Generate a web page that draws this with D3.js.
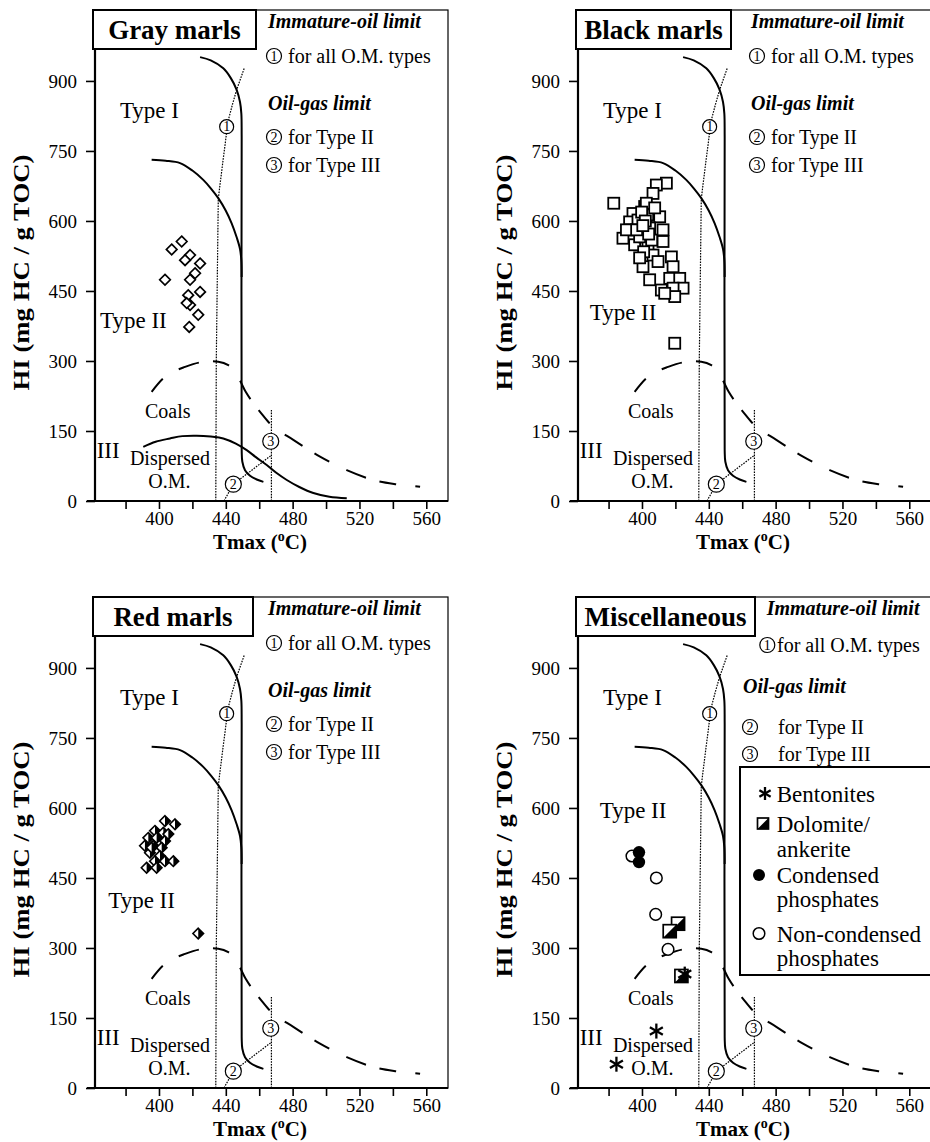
<!DOCTYPE html>
<html>
<head>
<meta charset="utf-8">
<script src="https://cdn.jsdelivr.net/npm/d3@7"></script>
<style>
body { margin: 0; background: #fff; }
svg { display: block; font-family: "Liberation Serif", "Times New Roman", serif; }
</style>
</head>
<body>
<script>
var width = 930, height = 1142;

// axes
var xTicks = [380, 400, 420, 440, 460, 480, 500, 520, 540, 560];
var xLabels = [400, 440, 480, 520, 560];
var yTicks = [0, 150, 300, 450, 600, 750, 900];

var panelTitles = ["Gray marls", "Black marls", "Red marls", "Miscellaneous"];

// reference curves, [Tmax, HI]
var typeICurve = [[424.6, 951], [431, 944], [438.5, 927], [443, 906], [446.5, 881], [448.5, 855], [449.3, 830],
    [449.5, 780], [449.5, 110], [449.9, 84], [451.5, 66], [454.5, 54], [458.5, 46], [462.5, 41]];
var typeIICurve = [[395.6, 731], [404, 729], [412.6, 724], [420, 708], [426.5, 688], [431, 670], [435.5, 649],
    [440, 622], [443.5, 595], [446.5, 565], [448.5, 540], [449.3, 515], [449.5, 480]];
var typeIIICurve = [[390.6, 116], [398, 127], [406.6, 134], [414, 139], [422.6, 140], [431, 138], [438.5, 134],
    [446, 123], [452.5, 109], [458, 94], [464.5, 77], [470, 61], [476.5, 45], [484, 30], [492.4, 17], [502, 9], [512.4, 5.7]];
var coalsCurve = [[395.6, 234], [402.6, 263], [408, 276], [414.6, 286], [424.6, 297], [435.5, 298.5], [441.5, 291],
    [445.5, 277], [448.5, 258], [451.9, 234], [456, 212], [460.5, 191], [468.4, 159], [480.4, 131], [496.4, 95],
    [512.4, 66], [528.3, 45], [542, 36], [556.3, 30.6]];
var immatureLimit = [[434, 0], [434.3, 300], [435.5, 648], [438, 720], [440.5, 790], [441.5, 816], [444, 850],
    [446.5, 881], [451.1, 928]];
var oilGasII = [[438.9, 0], [444.5, 36], [467.3, 98]];
var oilGasIII = [[467.3, 0], [467.3, 195]];
var limitMarks = [["1", 440.5, 802], ["2", 444.5, 36], ["3", 466.9, 128]];

// Type II label position per panel
var typeIILabelT = [364.7, 368.7, 369.6, 374.7];
var typeIILabelHI = [370, 388, 386, 579];

// Gray marls
var grayTmax = [413.6, 407.6, 418.6, 415.6, 424.6, 421.6, 403.6, 418.6, 424.6, 417.5, 418.6, 423.5, 418.1, 416.6];
var grayHI = [556, 539, 527, 516, 509, 488, 474, 474, 448, 441, 420, 399, 373, 424];

// Black marls
var blackTmax = [383.1, 414.6, 408.6, 406.6, 394.6, 401.6, 410.6, 392.6, 397.6, 402.6, 393.7, 388.6, 395.6, 401.6,
    403.6, 412.6, 412.6, 406.6, 417.6, 400.6, 409.6, 418.6, 404.6, 411.6, 416.6, 422.6, 424.6, 418.6, 419.6, 413.6,
    419.6, 390.7, 398.6, 402.6, 403.4, 404.6, 399.8, 405.8, 401, 396.8, 407.6, 398.6, 402, 404, 400.5];
var blackHI = [638, 681, 677, 659, 616, 631, 609, 598, 602, 595, 581, 563, 549, 566,
    549, 581, 556, 527, 523, 502, 513, 502, 474, 452, 477, 477, 456, 456, 438, 445,
    338, 581, 566, 638, 613, 585, 619, 559, 534, 581, 628, 521, 600, 572, 590];

// Red marls
var redTmax = [403.6, 409.6, 397.6, 402.6, 393.6, 398.6, 403.6, 391.6, 396.6, 401.6, 394.6, 400.6, 397.6, 403.6,
    392.6, 398.6, 408.6, 395.6, 405.6, 423.5];
var redHI = [572, 565, 551, 547, 536, 536, 529, 519, 519, 515, 504, 497, 486, 486, 472, 472, 486, 515, 544, 331];

// Miscellaneous
var bentoniteTmax = [425.6, 408.6, 384.7];
var bentoniteHI = [244, 122, 51];
var dolomiteTmax = [421.6, 416.6, 423.6];
var dolomiteHI = [352, 336, 240];
var condensedTmax = [398.2, 398.2];
var condensedHI = [505, 484];
var nonCondensedTmax = [394, 408.6, 408.2, 415.6];
var nonCondensedHI = [497, 450, 372, 297];

var legendNames = [["Bentonites"], ["Dolomite/", "ankerite"], ["Condensed", "phosphates"], ["Non-condensed", "phosphates"]];

var svg = d3.select("body").append("svg")
    .attr("width", width)
    .attr("height", height);

var frameW = 353, frameH = 491;
var panels = [
    {left: 95, top: 10, box: 163, leg: 0},
    {left: 578, top: 10, box: 155, leg: 0},
    {left: 95, top: 597, box: 160, leg: 0},
    {left: 578, top: 597, box: 179, leg: 1}
];
// layouts for the limit notes
var noteLayouts = [
    {immX: 173, immY: 18, c1X: 179, c1Y: 46, t1X: 193, ogX: 173, ogY: 100, c2X: 179, c2Y: 127, c3Y: 155, t2X: 193},
    {immX: 188.7, immY: 18, c1X: 189.3, c1Y: 48, t1X: 199, ogX: 165, ogY: 96, c2X: 172, c2Y: 130, c3Y: 157, t2X: 200}
];

var x = d3.scaleLinear().domain([361.7, 573]).range([0, frameW]);
var y = d3.scaleLinear().domain([0, 1052]).range([frameH, 0]);

var line = d3.line()
    .x(function (d) { return x(d[0]); })
    .y(function (d) { return y(d[1]); })
    .curve(d3.curveCatmullRom.alpha(0.5));

var diamond = "M0,-5.3L5.3,0L0,5.3L-5.3,0Z";
var halfDiamond = "M0,-5.3L5.3,0L0,5.3Z";

function asterisk(g, cx, cy, r) {
    var a = g.append("g").attr("transform", "translate(" + cx + "," + cy + ")");
    [90, 30, -30].forEach(function (ang) {
        var rad = ang * Math.PI / 180;
        a.append("line")
            .attr("x1", -r * Math.cos(rad)).attr("y1", -r * Math.sin(rad))
            .attr("x2", r * Math.cos(rad)).attr("y2", r * Math.sin(rad))
            .attr("stroke", "#000").attr("stroke-width", 2.3);
    });
}

function halfSquare(g, cx, cy, s) {
    var h = s / 2;
    var a = g.append("g").attr("transform", "translate(" + cx + "," + cy + ")");
    a.append("rect").attr("x", -h).attr("y", -h).attr("width", s).attr("height", s)
        .attr("fill", "#fff").attr("stroke", "#000").attr("stroke-width", 1.7);
    a.append("path").attr("d", "M" + h + "," + (-h) + "L" + h + "," + h + "L" + (-h) + "," + h + "Z")
        .attr("fill", "#000");
}

function numberCircle(g, cx, cy, label, r) {
    g.append("circle").attr("cx", cx).attr("cy", cy).attr("r", r)
        .attr("fill", "#fff").attr("stroke", "#000").attr("stroke-width", 1.2);
    g.append("text").attr("x", cx).attr("y", cy + 4.8)
        .attr("text-anchor", "middle").style("font-size", "14px").text(label);
}

panels.forEach(function (p, i) {
    var g = svg.append("g").attr("transform", "translate(" + p.left + "," + p.top + ")");

    // frame (top and right thin)
    g.append("rect").attr("width", frameW).attr("height", frameH)
        .attr("fill", "none").attr("stroke", "#000").attr("stroke-width", 1.2);

    // x axis
    var gx = g.append("g").attr("transform", "translate(0," + frameH + ")")
        .call(d3.axisBottom(x).tickValues(xTicks).tickSize(8).tickSizeOuter(0).tickPadding(2.5)
            .tickFormat(function (d) { return xLabels.indexOf(d) >= 0 ? d : ""; }));
    gx.select(".domain").remove();
    gx.selectAll(".tick line").attr("stroke-width", 1.6);
    gx.selectAll("text").style("font-size", "19px").style("font-family", "Liberation Serif, serif");
    g.append("line").attr("x1", -8).attr("x2", frameW).attr("y1", frameH).attr("y2", frameH)
        .attr("stroke", "#000").attr("stroke-width", 2.2);

    // y axis
    var gy = g.append("g")
        .call(d3.axisLeft(y).tickValues(yTicks).tickSize(9).tickSizeOuter(0).tickPadding(9));
    gy.select(".domain").remove();
    gy.selectAll(".tick line").attr("stroke-width", 1.6);
    gy.selectAll("text").style("font-size", "19px").style("font-family", "Liberation Serif, serif");
    g.append("line").attr("x1", 0).attr("x2", 0).attr("y1", 0).attr("y2", frameH)
        .attr("stroke", "#000").attr("stroke-width", 2.2);

    // axis titles
    var tx = g.append("text").attr("x", 165).attr("y", frameH + 48)
        .attr("text-anchor", "middle").style("font-size", "21px").style("font-weight", "bold");
    tx.append("tspan").text("Tmax (");
    tx.append("tspan").attr("dy", -8).style("font-size", "14px").text("o");
    tx.append("tspan").attr("dy", 8).text("C)");

    g.append("text")
        .attr("transform", "translate(-66," + (frameH / 2 + 17) + ") rotate(-90)")
        .attr("text-anchor", "middle").style("font-size", "23px").style("font-weight", "bold")
        .attr("textLength", 236).attr("lengthAdjust", "spacingAndGlyphs")
        .text("HI (mg HC / g TOC)");

    // dotted limits
    [immatureLimit, oilGasII, oilGasIII].forEach(function (c) {
        g.append("path").attr("d", d3.line().x(function (d) { return x(d[0]); }).y(function (d) { return y(d[1]); })(c))
            .attr("fill", "none").attr("stroke", "#000").attr("stroke-width", 1.2)
            .attr("stroke-dasharray", "1.6,1.2");
    });

    // reference curves
    var curves = [typeICurve, typeIICurve];
    if (i === 0) curves.push(typeIIICurve);
    curves.forEach(function (c) {
        g.append("path").attr("d", line(c))
            .attr("fill", "none").attr("stroke", "#000").attr("stroke-width", 2);
    });
    g.append("path").attr("d", line(coalsCurve))
        .attr("fill", "none").attr("stroke", "#000").attr("stroke-width", 2)
        .attr("stroke-dasharray", "17,19,21,14");

    limitMarks.forEach(function (m) {
        numberCircle(g, x(m[1]), y(m[2]), m[0], m[0] === "1" ? 7 : 8);
    });

    // region labels
    g.append("text").attr("x", x(376.6)).attr("y", y(820)).style("font-size", "23px").text("Type I");
    g.append("text").attr("x", x(typeIILabelT[i])).attr("y", y(typeIILabelHI[i])).style("font-size", "23px").text("Type II");
    g.append("text").attr("x", x(391.6)).attr("y", y(177)).style("font-size", "20px").text("Coals");
    g.append("text").attr("x", x(362.7)).attr("y", y(91.5)).style("font-size", "23px").text("III");
    g.append("text").attr("x", x(382.6)).attr("y", y(77)).style("font-size", "20px").text("Dispersed");
    g.append("text").attr("x", x(393.6)).attr("y", y(27)).style("font-size", "20px").text("O.M.");

    // data
    if (i === 0) {
        g.selectAll(".gray").data(d3.range(grayTmax.length)).enter().append("path")
            .attr("d", diamond)
            .attr("transform", function (k) { return "translate(" + x(grayTmax[k]) + "," + y(grayHI[k]) + ")"; })
            .attr("fill", "#fff").attr("stroke", "#000").attr("stroke-width", 1.7);
    }
    if (i === 1) {
        g.selectAll(".black").data(d3.range(blackTmax.length)).enter().append("rect")
            .attr("x", function (k) { return x(blackTmax[k]) - 5.5; })
            .attr("y", function (k) { return y(blackHI[k]) - 5.5; })
            .attr("width", 11).attr("height", 11)
            .attr("fill", "#fff").attr("stroke", "#000").attr("stroke-width", 1.8);
    }
    if (i === 2) {
        var rd = g.selectAll(".red").data(d3.range(redTmax.length)).enter().append("g")
            .attr("transform", function (k) { return "translate(" + x(redTmax[k]) + "," + y(redHI[k]) + ")"; });
        rd.append("path").attr("d", diamond).attr("fill", "#fff").attr("stroke", "#000").attr("stroke-width", 1.6);
        rd.append("path").attr("d", halfDiamond).attr("fill", "#000");
    }
    if (i === 3) {
        nonCondensedTmax.forEach(function (t, k) {
            g.append("circle").attr("cx", x(t)).attr("cy", y(nonCondensedHI[k])).attr("r", 5.8)
                .attr("fill", "#fff").attr("stroke", "#000").attr("stroke-width", 1.5);
        });
        condensedTmax.forEach(function (t, k) {
            g.append("circle").attr("cx", x(t)).attr("cy", y(condensedHI[k])).attr("r", 6.2).attr("fill", "#000");
        });
        dolomiteTmax.forEach(function (t, k) {
            halfSquare(g, x(t), y(dolomiteHI[k]), 13);
        });
        bentoniteTmax.forEach(function (t, k) {
            asterisk(g, x(t), y(bentoniteHI[k]), 7.5);
        });

        // symbol legend
        g.append("rect").attr("x", 162).attr("y", 170).attr("width", 191).attr("height", 208)
            .attr("fill", "#fff").attr("stroke", "#000").attr("stroke-width", 2);
        var rows = [[204.7], [234.7, 259.7], [286, 310], [344.7, 369]];
        legendNames.forEach(function (names, k) {
            names.forEach(function (nm, j) {
                g.append("text").attr("x", 198.7).attr("y", rows[k][j]).style("font-size", "23px").text(nm);
            });
        });
        asterisk(g, 187, 196.5, 6.5);
        halfSquare(g, 185, 226.5, 11);
        g.append("circle").attr("cx", 181).attr("cy", 278).attr("r", 6).attr("fill", "#000");
        g.append("circle").attr("cx", 181).attr("cy", 336.5).attr("r", 5.8)
            .attr("fill", "#fff").attr("stroke", "#000").attr("stroke-width", 1.5);
    }

    // title box
    g.append("rect").attr("x", -2).attr("y", 0).attr("width", p.box).attr("height", 39)
        .attr("fill", "#fff").attr("stroke", "#000").attr("stroke-width", 2);
    g.append("text").attr("x", -2 + p.box / 2).attr("y", 29)
        .attr("text-anchor", "middle").style("font-size", "27px").style("font-weight", "bold")
        .text(panelTitles[i]);

    // limit notes
    var L = noteLayouts[p.leg];
    g.append("text").attr("x", L.immX).attr("y", L.immY)
        .style("font-size", "20px").style("font-weight", "bold").style("font-style", "italic")
        .text("Immature-oil limit");
    numberCircle(g, L.c1X, L.c1Y, "1", 7.5);
    g.append("text").attr("x", L.t1X).attr("y", L.c1Y + 6.5).style("font-size", "20px").text("for all O.M. types");
    g.append("text").attr("x", L.ogX).attr("y", L.ogY)
        .style("font-size", "20px").style("font-weight", "bold").style("font-style", "italic")
        .text("Oil-gas limit");
    numberCircle(g, L.c2X, L.c2Y, "2", 7.5);
    g.append("text").attr("x", L.t2X).attr("y", L.c2Y + 6.5).style("font-size", "20px").text("for Type II");
    numberCircle(g, L.c2X, L.c3Y, "3", 7.5);
    g.append("text").attr("x", L.t2X).attr("y", L.c3Y + 6.5).style("font-size", "20px").text("for Type III");
});
</script>
</body>
</html>
